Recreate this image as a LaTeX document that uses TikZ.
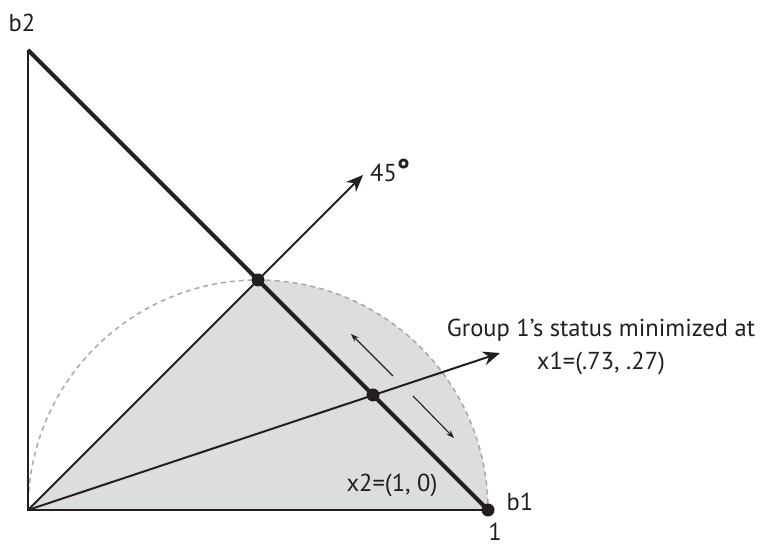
\documentclass[tikz,border=0pt]{standalone}
\usepackage{fontspec}
\setmainfont{PT Sans}
\usetikzlibrary{arrows.meta}
\definecolor{ink}{HTML}{231F20}
\definecolor{shadegray}{HTML}{DCDDDF}
\definecolor{dashc}{HTML}{A7A9AC}
\begin{document}
\begin{tikzpicture}[x=1pt,y=1pt,
  lbl/.style={font=\fontsize{24.5}{33}\selectfont, text=ink, inner sep=0pt},
  thin/.style={draw=ink, line width=2pt},
  thick/.style={draw=ink, line width=4.2pt},
  bigarrow/.style={draw=ink, line width=2pt, -{Stealth[length=17pt,width=14pt]}},
  smallarrow/.style={draw=ink, line width=1.1pt, -{Stealth[length=8pt,width=6pt]}},
  dot/.style={circle, fill=ink, inner sep=0pt, minimum size=13pt}]
\useasboundingbox (0,0) rectangle (761,548);
\coordinate (O) at (28,38);
\coordinate (B1) at (488,38);
\coordinate (B2) at (28,498);
\coordinate (T) at (258,268);
\coordinate (M) at (373,153);
\coordinate (A45) at (363,373);
\coordinate (AG) at (500,195);
\coordinate (U1) at (393,172);
\coordinate (U2) at (351,214);
\coordinate (D1) at (413,152);
\coordinate (D2) at (454,110);
% shaded region
\fill[shadegray] (O) -- (T) arc[start angle=90, end angle=0, radius=230] -- cycle;
\draw[dashc, line width=1.5pt, dash pattern=on 5pt off 4pt] (O) arc[start angle=180, end angle=0, radius=230];
% axes and rays
\draw[thin] (B2) -- (O) -- (B1);
\draw[thin] (O) -- (T);
\draw[thick] (B2) -- (B1);
\draw[bigarrow] (T) -- (A45);
\draw[bigarrow] (O) -- (AG);
\draw[smallarrow] (U1) -- (U2);
\draw[smallarrow] (D1) -- (D2);
% dots
\node[dot] (dT) at (T) {};
\node[dot] (dM) at (M) {};
\node[dot] (dB1) at (B1) {};
% labels
\node[lbl] (lb2) at (22,525) {b2};
\node[lbl, anchor=west] (l45) at (370,378) {45\raisebox{1pt}{\fontsize{30}{30}\selectfont\bfseries °}};
\node[lbl, align=center] (lg) at (601,201.5) {Group 1’s status minimized at\\x1=(.73, .27)};
\node[lbl] (lx2) at (392,63) {x2=(1, 0)};
\node[lbl] (lb1) at (520,46) {b1};
\node[lbl] (l1) at (495,16) {1};
\end{tikzpicture}
\end{document}
